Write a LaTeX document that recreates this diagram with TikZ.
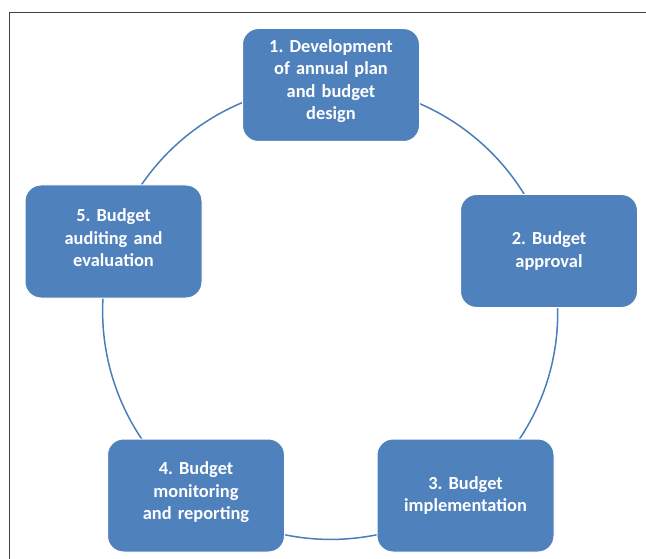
\documentclass[tikz,border=0pt]{standalone}
\usepackage{fontspec}
\setmainfont{Carlito}
\frenchspacing
\usetikzlibrary{backgrounds}
\definecolor{stageblue}{RGB}{79,129,189}
\definecolor{ringblue}{RGB}{74,126,187}
\definecolor{framegray}{RGB}{64,64,64}
\begin{document}
\begin{tikzpicture}[x=1pt,y=-1pt,
  stagebox/.style={rounded corners=16pt, fill=stageblue, draw=white, line width=1pt,
    minimum width=177pt, minimum height=113pt, text width=165pt, align=center,
    text=white, inner sep=0pt,
    font=\fontsize{18.4}{22.4}\selectfont\bfseries},
  lift/.style={execute at end node={\endgraf\vspace*{#1}}},
  ring/.style={draw=ringblue, line width=1.5pt, looseness=0.94}]
\useasboundingbox (0,0) rectangle (646,559);
% page frame
\draw[framegray, line width=1pt] (9.5,559) -- (9.5,12.5) -- (646,12.5);
% the five stages of the budget cycle
\node[stagebox, lift=8pt] (s1) at (331,85)    {1. Development\\of annual plan\\and budget\\design};
\node[stagebox] (s2) at (549,251)   {2. Budget\\approval};
\node[stagebox] (s3) at (465.5,495.5) {3. Budget\\implementation};
\node[stagebox, lift=6pt] (s4) at (196,495.5) {4. Budget\\monitoring\\and reporting};
\node[stagebox, lift=7pt] (s5) at (113.5,241.5) {5. Budget\\auditing and\\evaluation};
% circular ring joining the stages, drawn behind the boxes
\begin{scope}[on background layer]
  \draw[ring] (s1.center) to[bend left=37.1] (s2.center);
  \draw[ring] (s2.center) to[bend left=34.7] (s3.center);
  \draw[ring] (s3.center) to[bend left=36.35] (s4.center);
  \draw[ring] (s4.center) to[bend left=35.8] (s5.center);
  \draw[ring] (s5.center) to[bend left=36.0] (s1.center);
\end{scope}
\end{tikzpicture}
\end{document}
